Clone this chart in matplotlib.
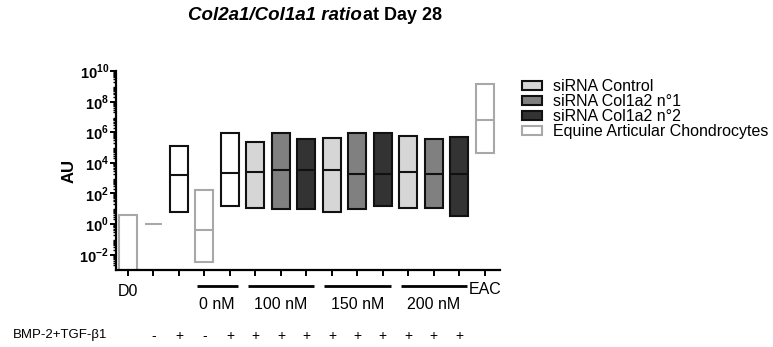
import numpy as np
import matplotlib
matplotlib.use("Agg")
import matplotlib.pyplot as plt
from matplotlib.patches import Patch
from matplotlib.ticker import LogLocator, NullFormatter

plt.rcParams['font.family'] = ['Liberation Sans', 'DejaVu Sans']
plt.rcParams['mathtext.fontset'] = 'custom'
plt.rcParams['mathtext.rm'] = 'Liberation Sans:bold'
plt.rcParams['mathtext.bf'] = 'Liberation Sans:bold'

# données (min / max / médiane, échelle log)
kinds = ['nt_gray', 'nt_gray', 'nt_black', 'nt_gray', 'nt_black',
         'ctrl', 'n1', 'n2', 'ctrl', 'n1', 'n2', 'ctrl', 'n1', 'n2', 'eac']
lows = [1e-4, 1.0, 6, 3.5e-3, 16, 11, 9, 10, 6.6, 9, 15, 12, 12, 3.2, 4.7e4]
highs = [4.0, 1.0, 1.3e5, 180, 9.5e5, 2.3e5, 8.6e5, 3.5e5, 4.3e5, 8.6e5, 8.6e5,
         5.8e5, 3.5e5, 5.2e5, 1.5e9]
medians = [1e-4, 1.0, 1.7e3, 0.42, 2.3e3, 2.5e3, 3.7e3, 3.7e3, 3.7e3, 1.9e3, 1.9e3,
           2.7e3, 1.8e3, 2.0e3, 6.5e6]
bmp = ['', '-', '+', '-', '+', '+', '+', '+', '+', '+', '+', '+', '+', '+', '']
dose_labels = ['0 nM', '100 nM', '150 nM', '200 nM']
dose_groups = [(3, 4), (5, 7), (8, 10), (11, 13)]
legend_labels = ['siRNA Control', 'siRNA Col1a2 n°1', 'siRNA Col1a2 n°2',
                 'Equine Articular Chondrocytes']

styles = {
    'nt_gray': ('white', '#a8a8a8'),
    'nt_black': ('white', '#111111'),
    'ctrl': ('#d6d6d6', '#111111'),
    'n1': ('#808080', '#111111'),
    'n2': ('#333333', '#111111'),
    'eac': ('white', '#a8a8a8'),
}

fig = plt.figure(figsize=(7.73, 3.47), dpi=100)
ax = fig.add_axes([0.150, 0.222, 0.497, 0.573])

x = np.arange(len(kinds))
w = 0.7
for i, k in enumerate(kinds):
    fc, ec = styles[k]
    if highs[i] > lows[i]:
        ax.bar(x[i], highs[i] - lows[i], bottom=lows[i], width=w,
               facecolor=fc, edgecolor=ec, linewidth=1.5, zorder=2)
    ax.hlines(medians[i], x[i] - w / 2, x[i] + w / 2, color=ec, lw=1.5, zorder=3)

ax.set_yscale('log')
ax.set_ylim(1e-3, 1e10)
ax.set_xlim(-0.47, 14.6)
yt = [10.0 ** p for p in range(-2, 11, 2)]
ax.set_yticks(yt)
ax.set_yticklabels([r'$10^{%d}$' % p for p in range(-2, 11, 2)], fontsize=10.5)
ax.yaxis.set_minor_locator(LogLocator(base=10, subs=np.arange(2, 10), numticks=100))
ax.yaxis.set_minor_formatter(NullFormatter())
ax.set_xticks(x)
ax.set_xticklabels([''] * len(x))

for s in ['top', 'right']:
    ax.spines[s].set_visible(False)
for s in ['left', 'bottom']:
    ax.spines[s].set_linewidth(1.6)
ax.tick_params(axis='both', which='major', width=1.4, length=4, direction='out')
ax.tick_params(axis='y', which='minor', width=1.0, length=2)
ax.tick_params(axis='y', pad=1)

ax.set_ylabel('AU', fontsize=12, fontweight='bold', labelpad=2)

tr = ax.get_xaxis_transform()
ax.text(0, -0.11, 'D0', transform=tr, ha='center', va='center', fontsize=11.5)
ax.text(14, -0.10, 'EAC', transform=tr, ha='center', va='center', fontsize=11.5)
for (a, b), lab in zip(dose_groups, dose_labels):
    ax.plot([a - 0.3, b + 0.3], [-0.08, -0.08], transform=tr, color='black',
            lw=2, clip_on=False, solid_capstyle='butt')
    ax.text((a + b) / 2, -0.175, lab, transform=tr, ha='center', va='center',
            fontsize=11.5)

for i, s in enumerate(bmp):
    if s:
        ax.text(x[i], -0.33, s, transform=tr, ha='center', va='center', fontsize=10)
fig.text(13 / 773, 1 - 335 / 347, 'BMP-2+TGF-β1', ha='left', va='center', fontsize=9.5)

# titre : partie en italique + partie droite
fig.text(0.468, 0.954, 'Col2a1/Col1a1 ratio', ha='right', va='center',
         fontsize=13.5, fontweight='bold', style='italic')
fig.text(0.469, 0.954, 'at Day 28', ha='left', va='center',
         fontsize=13, fontweight='bold')

handles = [Patch(facecolor=styles[k][0], edgecolor=styles[k][1], linewidth=1.5)
           for k in ['ctrl', 'n1', 'n2', 'eac']]
fig.legend(handles, legend_labels, loc='upper left', bbox_to_anchor=(0.667, 0.79),
           frameon=False, fontsize=11.5, handlelength=1.25, handleheight=0.55,
           labelspacing=0.0, handletextpad=0.7, borderaxespad=0)

fig.savefig('out.png', dpi=100)
